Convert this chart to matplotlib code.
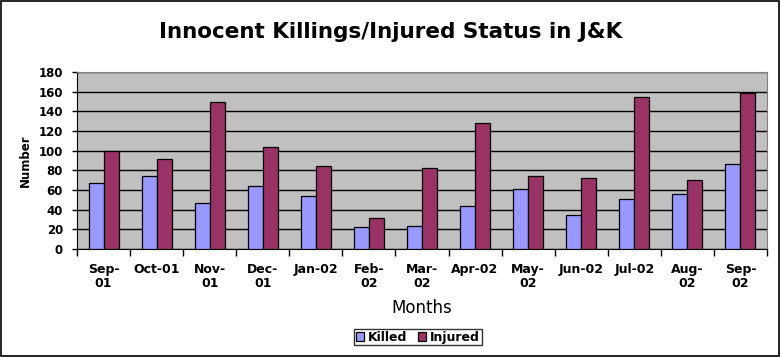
import numpy as np
import matplotlib
matplotlib.use("Agg")
import matplotlib.pyplot as plt
from matplotlib.patches import Rectangle

months = ["Sep-\n01", "Oct-01", "Nov-\n01", "Dec-\n01", "Jan-02", "Feb-\n02", "Mar-\n02",
          "Apr-02", "May-\n02", "Jun-02", "Jul-02", "Aug-\n02", "Sep-\n02"]
killed = [67, 74, 47, 64, 54, 22, 23, 44, 61, 35, 51, 56, 87]
injured = [100, 92, 150, 104, 84, 32, 82, 128, 74, 72, 155, 70, 159]

plt.rcParams['font.family'] = ['DejaVu Sans']

fig = plt.figure(figsize=(7.81, 3.57), dpi=100)
fig.patches.append(Rectangle((0.001, 0.002), 0.997, 0.995, transform=fig.transFigure,
                             fill=False, edgecolor='black', linewidth=1.2))

ax = fig.add_axes([0.0986, 0.3025, 0.8834, 0.4955])
ax.set_facecolor('#C0C0C0')

x = np.arange(len(months))
w = 0.283
ax.bar(x - w / 2, killed, w, color='#9999FF', edgecolor='black', linewidth=0.9,
       label='Killed', zorder=3)
ax.bar(x + w / 2, injured, w, color='#993366', edgecolor='black', linewidth=0.9,
       label='Injured', zorder=3)

ax.set_xlim(-0.5, len(months) - 0.5)
ax.set_ylim(0, 180)
ax.set_yticks(range(0, 181, 20))
ax.yaxis.grid(True, color='black', linewidth=1, zorder=1)
ax.set_axisbelow(True)

ax.set_xticks(x)
ax.set_xticklabels(months, fontsize=9, fontweight='bold', linespacing=1.15)
ax.set_xticks(np.arange(-0.5, len(months)), minor=True)
ax.tick_params(axis='x', which='major', length=0, pad=10)
ax.tick_params(axis='x', which='minor', length=5, width=1, direction='out')
ax.tick_params(axis='y', length=3.6, width=1, labelsize=8.5, pad=6.5)
for lab in ax.get_yticklabels():
    lab.set_fontweight('bold')

ax.spines['top'].set_color('#808080')
ax.spines['right'].set_color('#808080')
ax.spines['left'].set_color('black')
ax.spines['bottom'].set_color('black')

ax.set_ylabel('Number', fontsize=8.5, fontweight='bold', labelpad=5)
ax.set_xlabel('Months', fontsize=12, labelpad=6)
fig.text(0.5, 0.91, 'Innocent Killings/Injured Status in J&K', ha='center', va='center',
         fontsize=15.5, fontweight='bold')

leg = fig.legend(loc='center', bbox_to_anchor=(0.535, 0.056), ncol=2,
                 frameon=True, fancybox=False, edgecolor='black', handlelength=0.7,
                 handleheight=0.7, handletextpad=0.3, columnspacing=0.8,
                 borderpad=0.15, prop={'weight': 'bold', 'size': 9})
leg.get_frame().set_linewidth(1)

fig.savefig('out.png', dpi=100)
